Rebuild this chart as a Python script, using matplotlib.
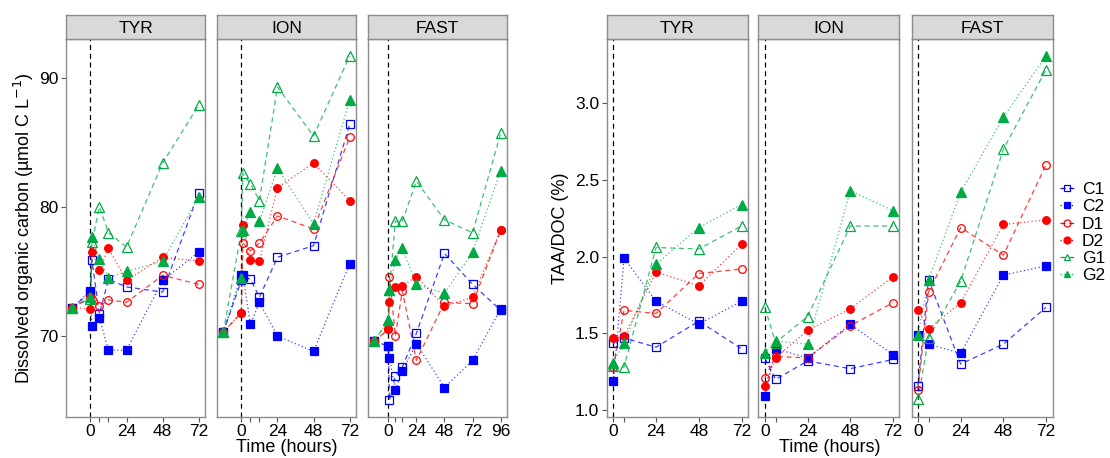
import matplotlib
matplotlib.use("Agg")
import matplotlib.pyplot as plt
from matplotlib.lines import Line2D

plt.rcParams['font.family'] = ['Liberation Sans', 'DejaVu Sans']

# --- data -------------------------------------------------------------
panels = ["TYR", "ION", "FAST"]
series = ["C1", "C2", "D1", "D2", "G1", "G2"]

doc_times = [-12, 0, 1, 6, 12, 24, 48, 72]
doc_times_fast = [-12, 0, 1, 6, 12, 24, 48, 72, 96]

doc_tyr = {
    "C1": [72.2, 73.4, 75.9, 71.7, 74.4, 73.8, 73.4, 81.1],
    "C2": [72.2, 73.5, 70.8, 71.4, 68.9, 68.9, 74.3, 76.5],
    "D1": [72.2, 73.0, 72.9, 72.3, 72.8, 72.6, 74.7, 74.0],
    "D2": [72.2, 72.1, 76.5, 75.1, 76.8, 74.3, 76.1, 75.8],
    "G1": [72.2, 72.9, 77.3, 80.0, 78.0, 76.9, 83.4, 87.9],
    "G2": [72.2, 73.0, 77.7, 76.0, 74.5, 75.0, 75.8, 80.8],
}
doc_ion = {
    "C1": [70.3, 74.3, 74.6, 74.4, 73.0, 76.1, 77.0, 86.4],
    "C2": [70.3, 74.7, 74.7, 70.9, 72.6, 70.0, 68.8, 75.6],
    "D1": [70.3, 71.8, 77.2, 76.6, 77.2, 79.3, 78.3, 85.4],
    "D2": [70.3, 71.8, 78.6, 75.9, 75.8, 81.5, 83.4, 80.5],
    "G1": [70.3, 78.1, 82.6, 81.8, 80.5, 89.3, 85.5, 91.7],
    "G2": [70.3, 74.5, 78.2, 79.6, 78.9, 83.0, 78.7, 88.3],
}
doc_fast = {
    "C1": [69.6, 69.2, 65.0, 66.9, 67.6, 70.2, 76.4, 74.0, 72.0],
    "C2": [69.6, 69.2, 68.3, 65.8, 67.3, 69.4, 66.0, 68.1, 72.1],
    "D1": [69.6, 70.5, 74.6, 70.0, 73.5, 68.1, 72.6, 72.5, 78.2],
    "D2": [69.6, 70.5, 72.6, 73.8, 73.9, 74.6, 72.3, 73.0, 78.2],
    "G1": [69.6, 71.2, 73.6, 78.9, 78.9, 82.0, 79.0, 78.0, 85.7],
    "G2": [69.6, 71.2, 73.6, 75.9, 76.8, 74.0, 73.3, 76.5, 82.8],
}

taa_times = [0, 6, 24, 48, 72]
taa_tyr = {
    "C1": [1.44, 1.47, 1.41, 1.58, 1.40],
    "C2": [1.19, 1.99, 1.71, 1.56, 1.71],
    "D1": [1.28, 1.65, 1.63, 1.89, 1.92],
    "D2": [1.47, 1.48, 1.90, 1.81, 2.08],
    "G1": [1.29, 1.28, 2.06, 2.05, 2.20],
    "G2": [1.31, 1.44, 1.95, 2.19, 2.34],
}
taa_ion = {
    "C1": [1.34, 1.20, 1.32, 1.27, 1.33],
    "C2": [1.09, 1.40, 1.34, 1.56, 1.36],
    "D1": [1.21, 1.35, 1.34, 1.55, 1.70],
    "D2": [1.16, 1.34, 1.52, 1.66, 1.87],
    "G1": [1.67, 1.44, 1.61, 2.20, 2.20],
    "G2": [1.37, 1.45, 1.43, 2.43, 2.30],
}
taa_fast = {
    "C1": [1.16, 1.85, 1.30, 1.43, 1.67],
    "C2": [1.49, 1.43, 1.37, 1.88, 1.94],
    "D1": [1.13, 1.77, 2.19, 2.01, 2.60],
    "D2": [1.65, 1.53, 1.70, 2.21, 2.24],
    "G1": [1.07, 1.47, 1.84, 2.70, 3.22],
    "G2": [1.49, 1.85, 2.42, 2.91, 3.31],
}

# --- styles -----------------------------------------------------------
colors = {"C": "#0000FF", "D": "#FF0000", "G": "#00AA44"}
markers = {"C": "s", "D": "o", "G": "^"}
linestyles = {"1": (0, (4, 3)), "2": (0, (1, 2))}


def draw_series(ax, times, values, name):
    c = colors[name[0]]
    filled = name[1] == "2"
    ax.plot(times, values, color=c, lw=0.9, alpha=0.75,
            ls=linestyles[name[1]], zorder=2)
    ax.plot(times, values, ls="none", marker=markers[name[0]],
            ms=5.5 if name[0] != "G" else 6.5,
            mfc=c if filled else "none", mec=c, mew=0.9, zorder=3)


def style_panel(ax, title, xlim, ylim, xticks, xlabels, show_y):
    ax.set_xlim(*xlim)
    ax.set_ylim(*ylim)
    ax.axvline(0, color="black", ls=(0, (4, 3)), lw=0.9, zorder=1)
    ax.set_xticks(xticks)
    ax.set_xticklabels(xlabels)
    for s in ax.spines.values():
        s.set_color("#8c8c8c")
        s.set_linewidth(1.0)
    ax.tick_params(colors="#555555", labelcolor="black", labelsize=12.5,
                   length=3.5, width=0.8, pad=2)
    if not show_y:
        ax.tick_params(axis="y", left=False, labelleft=False)
    # strip on top
    pos = ax.get_position()
    sax = fig.add_axes([pos.x0, 0.9142, pos.width, 0.053])
    sax.set_facecolor("#d9d9d9")
    sax.set_xticks([])
    sax.set_yticks([])
    for s in sax.spines.values():
        s.set_color("#8c8c8c")
        s.set_linewidth(1.0)
    sax.text(0.5, 0.45, title, ha="center", va="center", fontsize=12.5,
             transform=sax.transAxes)


fig = plt.figure(figsize=(11.1, 4.58), dpi=100)

bottom, height = 0.0902, 0.824
left_x = [0.0595, 0.1955, 0.3315]
right_x = [0.5468, 0.6833, 0.8212]
pw_left, pw_right = 0.1252, 0.127

doc_data = [(doc_times, doc_tyr), (doc_times, doc_ion), (doc_times_fast, doc_fast)]
taa_data = [taa_tyr, taa_ion, taa_fast]

left_axes = []
for i, (times, d) in enumerate(doc_data):
    ax = fig.add_axes([left_x[i], bottom, pw_left, height])
    for name in series:
        draw_series(ax, times, d[name], name)
    if panels[i] == "FAST":
        style_panel(ax, panels[i], (-17.4, 101.4), (63.74, 93.0),
                    [0, 6, 12, 24, 48, 72, 96],
                    ["0", "", "", "24", "48", "72", "96"], i == 0)
    else:
        style_panel(ax, panels[i], (-16.2, 76.2), (63.74, 93.0),
                    [0, 6, 12, 24, 48, 72],
                    ["0", "", "", "24", "48", "72"], i == 0)
    if i == 0:
        ax.set_yticks([70, 80, 90])
    left_axes.append(ax)

right_axes = []
for i, d in enumerate(taa_data):
    ax = fig.add_axes([right_x[i], bottom, pw_right, height])
    for name in series:
        draw_series(ax, taa_times, d[name], name)
    style_panel(ax, panels[i], (-3.6, 75.6), (0.957, 3.417),
                [0, 6, 24, 48, 72], ["0", "", "24", "48", "72"], i == 0)
    if i == 0:
        ax.set_yticks([1.0, 1.5, 2.0, 2.5, 3.0])
        ax.set_yticklabels(["1.0", "1.5", "2.0", "2.5", "3.0"])
    right_axes.append(ax)

left_axes[0].set_ylabel("Dissolved organic carbon (\u00b5mol C L$^{-1}$)",
                        fontsize=13, labelpad=2)
right_axes[0].set_ylabel("TAA/DOC (%)", fontsize=13, labelpad=4)
fig.text(0.2583, 0.004, "Time (hours)", ha="center", va="bottom", fontsize=13)
fig.text(0.7478, 0.004, "Time (hours)", ha="center", va="bottom", fontsize=13)

# legend
handles = []
for name in series:
    c = colors[name[0]]
    filled = name[1] == "2"
    handles.append(Line2D([], [], color=c, lw=0.9, ls=linestyles[name[1]],
                          marker=markers[name[0]], ms=5,
                          mfc=c if filled else "none", mec=c, mew=0.9))
fig.legend(handles, series, loc="center left", bbox_to_anchor=(0.955, 0.492),
           frameon=False, fontsize=12.5, handlelength=0.8, handletextpad=0.45,
           labelspacing=0.12, borderaxespad=0, borderpad=0)

fig.savefig("out.png", dpi=100)
